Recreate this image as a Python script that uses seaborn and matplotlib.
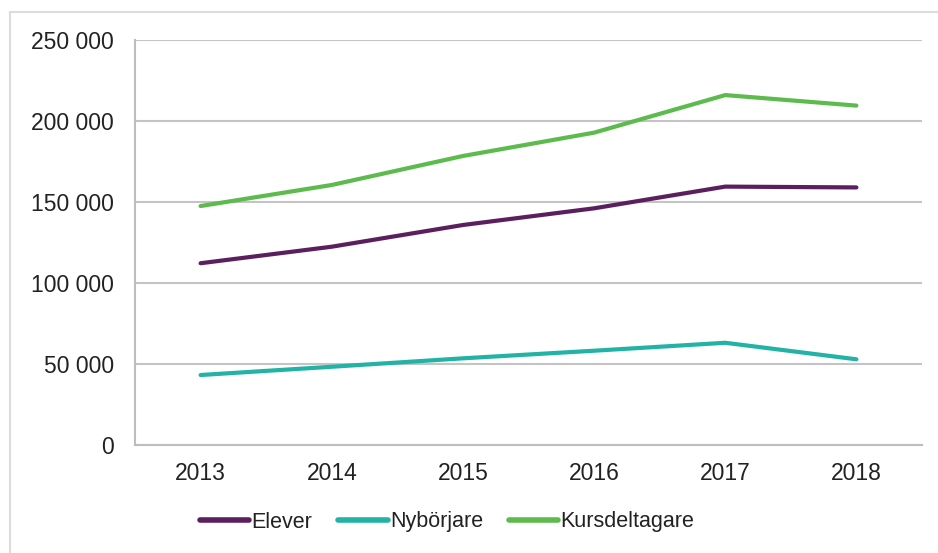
import matplotlib.pyplot as plt
import matplotlib.ticker as mticker
import numpy as np
import pandas as pd
import seaborn as sns
from matplotlib.lines import Line2D

years = ["2013", "2014", "2015", "2016", "2017", "2018"]
elever = [112200, 122400, 135800, 146100, 159500, 159000]
nyborjare = [43200, 48300, 53500, 58200, 63100, 52900]
kursdeltagare = [147500, 160500, 178400, 192800, 216000, 209500]

series = ["Elever", "Nybörjare", "Kursdeltagare"]
colors = ["#5B1F5E", "#22B3A6", "#5DBB4E"]

df = pd.DataFrame({
    "year": years * 3,
    "value": elever + nyborjare + kursdeltagare,
    "series": np.repeat(series, len(years)),
})

sns.set_style("white")
plt.rcParams["font.family"] = ["Liberation Sans", "DejaVu Sans"]

fig = plt.figure(figsize=(9.38, 5.53), dpi=100)
ax = fig.add_axes([135 / 938, 1 - 445 / 553, 787 / 938, 405 / 553])

sns.lineplot(data=df, x="year", y="value", hue="series", palette=colors,
             linewidth=3.0, ax=ax, legend=False, sort=False)

ax.set_xlim(-0.5, len(years) - 0.5)
ax.set_ylim(0, 250000)
ax.yaxis.set_major_locator(mticker.MultipleLocator(50000))
ax.yaxis.set_major_formatter(mticker.FuncFormatter(lambda v, p: f"{int(v):,}".replace(",", " ")))
ax.grid(axis="y", color="#c4c4c4", linewidth=1.5)
ax.set_axisbelow(True)

for side in ["top", "right"]:
    ax.spines[side].set_visible(False)
for side in ["left", "bottom"]:
    ax.spines[side].set_color("#bdbdbd")
    ax.spines[side].set_linewidth(1.5)

ax.set_xlabel("")
ax.set_ylabel("")
ax.tick_params(axis="y", which="major", length=7, width=1.5, color="#bdbdbd",
               labelsize=16.5, labelcolor="#222222", pad=8)
ax.tick_params(axis="x", which="major", length=0, labelsize=16.5,
               labelcolor="#222222", pad=12)
ax.xaxis.set_minor_locator(mticker.FixedLocator(np.arange(-0.5, len(years), 1.0)))
ax.tick_params(axis="x", which="minor", length=6, width=1.5, color="#bdbdbd")

handles = [Line2D([], [], color=c, linewidth=4) for c in colors]
fig.legend(handles, series, loc="center", bbox_to_anchor=(447 / 938, 1 - 522 / 553),
           ncol=3, frameon=False, fontsize=15.5, handlelength=2.3,
           handletextpad=0.1, columnspacing=1.2, labelcolor="#222222")

# outer frame (top and left edges only)
fig.add_artist(Line2D([10 / 938, 10 / 938], [0, 1 - 12 / 553], color="#dcdcdc",
                      linewidth=1.5, transform=fig.transFigure))
fig.add_artist(Line2D([10 / 938, 1], [1 - 12 / 553, 1 - 12 / 553], color="#dcdcdc",
                      linewidth=1.5, transform=fig.transFigure))

fig.savefig("out.png", dpi=100)
